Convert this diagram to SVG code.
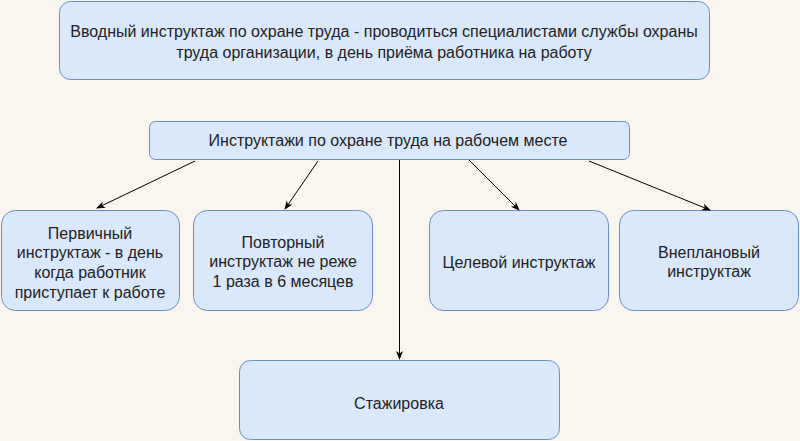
<svg xmlns="http://www.w3.org/2000/svg" width="800" height="441" viewBox="0 0 800 441">
<defs>
<style>
.box{fill:#dae8fc;stroke:#6c8ebf;stroke-width:1}
.t{font-family:"Liberation Sans",Arial,sans-serif;font-size:16px;fill:#222;text-anchor:middle}
.c{stroke:#000;stroke-width:1;fill:none;marker-end:url(#ah)}
</style>
<marker id="ah" markerWidth="10" markerHeight="10" refX="8" refY="5" orient="auto" markerUnits="userSpaceOnUse">
<path d="M0,1.5 L9,5 L0,8.5 L2.5,5 Z" fill="#000"/>
</marker>
</defs>
<rect width="800" height="441" fill="#f8f6ef"/>
<g id="n-vvod">
<rect class="box" x="59.5" y="1.5" width="650" height="78" rx="11"/>
<text class="t" x="384" y="37">Вводный инструктаж по охране труда - проводиться специалистами службы охраны</text>
<text class="t" x="384" y="58">труда организации, в день приёма работника на работу</text>
</g>
<g id="n-head">
<rect class="box" x="149.5" y="121.5" width="480" height="38" rx="6"/>
<text class="t" x="388" y="146">Инструктажи по охране труда на рабочем месте</text>
</g>
<g id="n-perv">
<rect class="box" x="1.5" y="210.5" width="178" height="100" rx="14"/>
<text class="t" x="90" y="239">Первичный</text>
<text class="t" x="90" y="258">инструктаж - в день</text>
<text class="t" x="90" y="278">когда работник</text>
<text class="t" x="90" y="298">приступает к работе</text>
</g>
<g id="n-povt">
<rect class="box" x="193.5" y="210.5" width="179" height="100" rx="14"/>
<text class="t" x="283" y="248">Повторный</text>
<text class="t" x="283" y="267">инструктаж не реже</text>
<text class="t" x="283" y="287">1 раза в 6 месяцев</text>
</g>
<g id="n-cel">
<rect class="box" x="429.5" y="210.5" width="179" height="100" rx="14"/>
<text class="t" x="519" y="268">Целевой инструктаж</text>
</g>
<g id="n-vnepl">
<rect class="box" x="619.5" y="210.5" width="179" height="100" rx="14"/>
<text class="t" x="709" y="258">Внеплановый</text>
<text class="t" x="709" y="277">инструктаж</text>
</g>
<g id="n-stazh">
<rect class="box" x="239.5" y="360.5" width="320" height="79" rx="11"/>
<text class="t" x="399" y="409">Стажировка</text>
</g>
<g id="connectors">
<path class="c" d="M195,161 L97,208"/>
<path class="c" d="M318,161 L285,209"/>
<path class="c" d="M399.5,160 L399.5,359"/>
<path class="c" d="M469,160 L519,210"/>
<path class="c" d="M589,161 L710,210"/>
</g>
</svg>
